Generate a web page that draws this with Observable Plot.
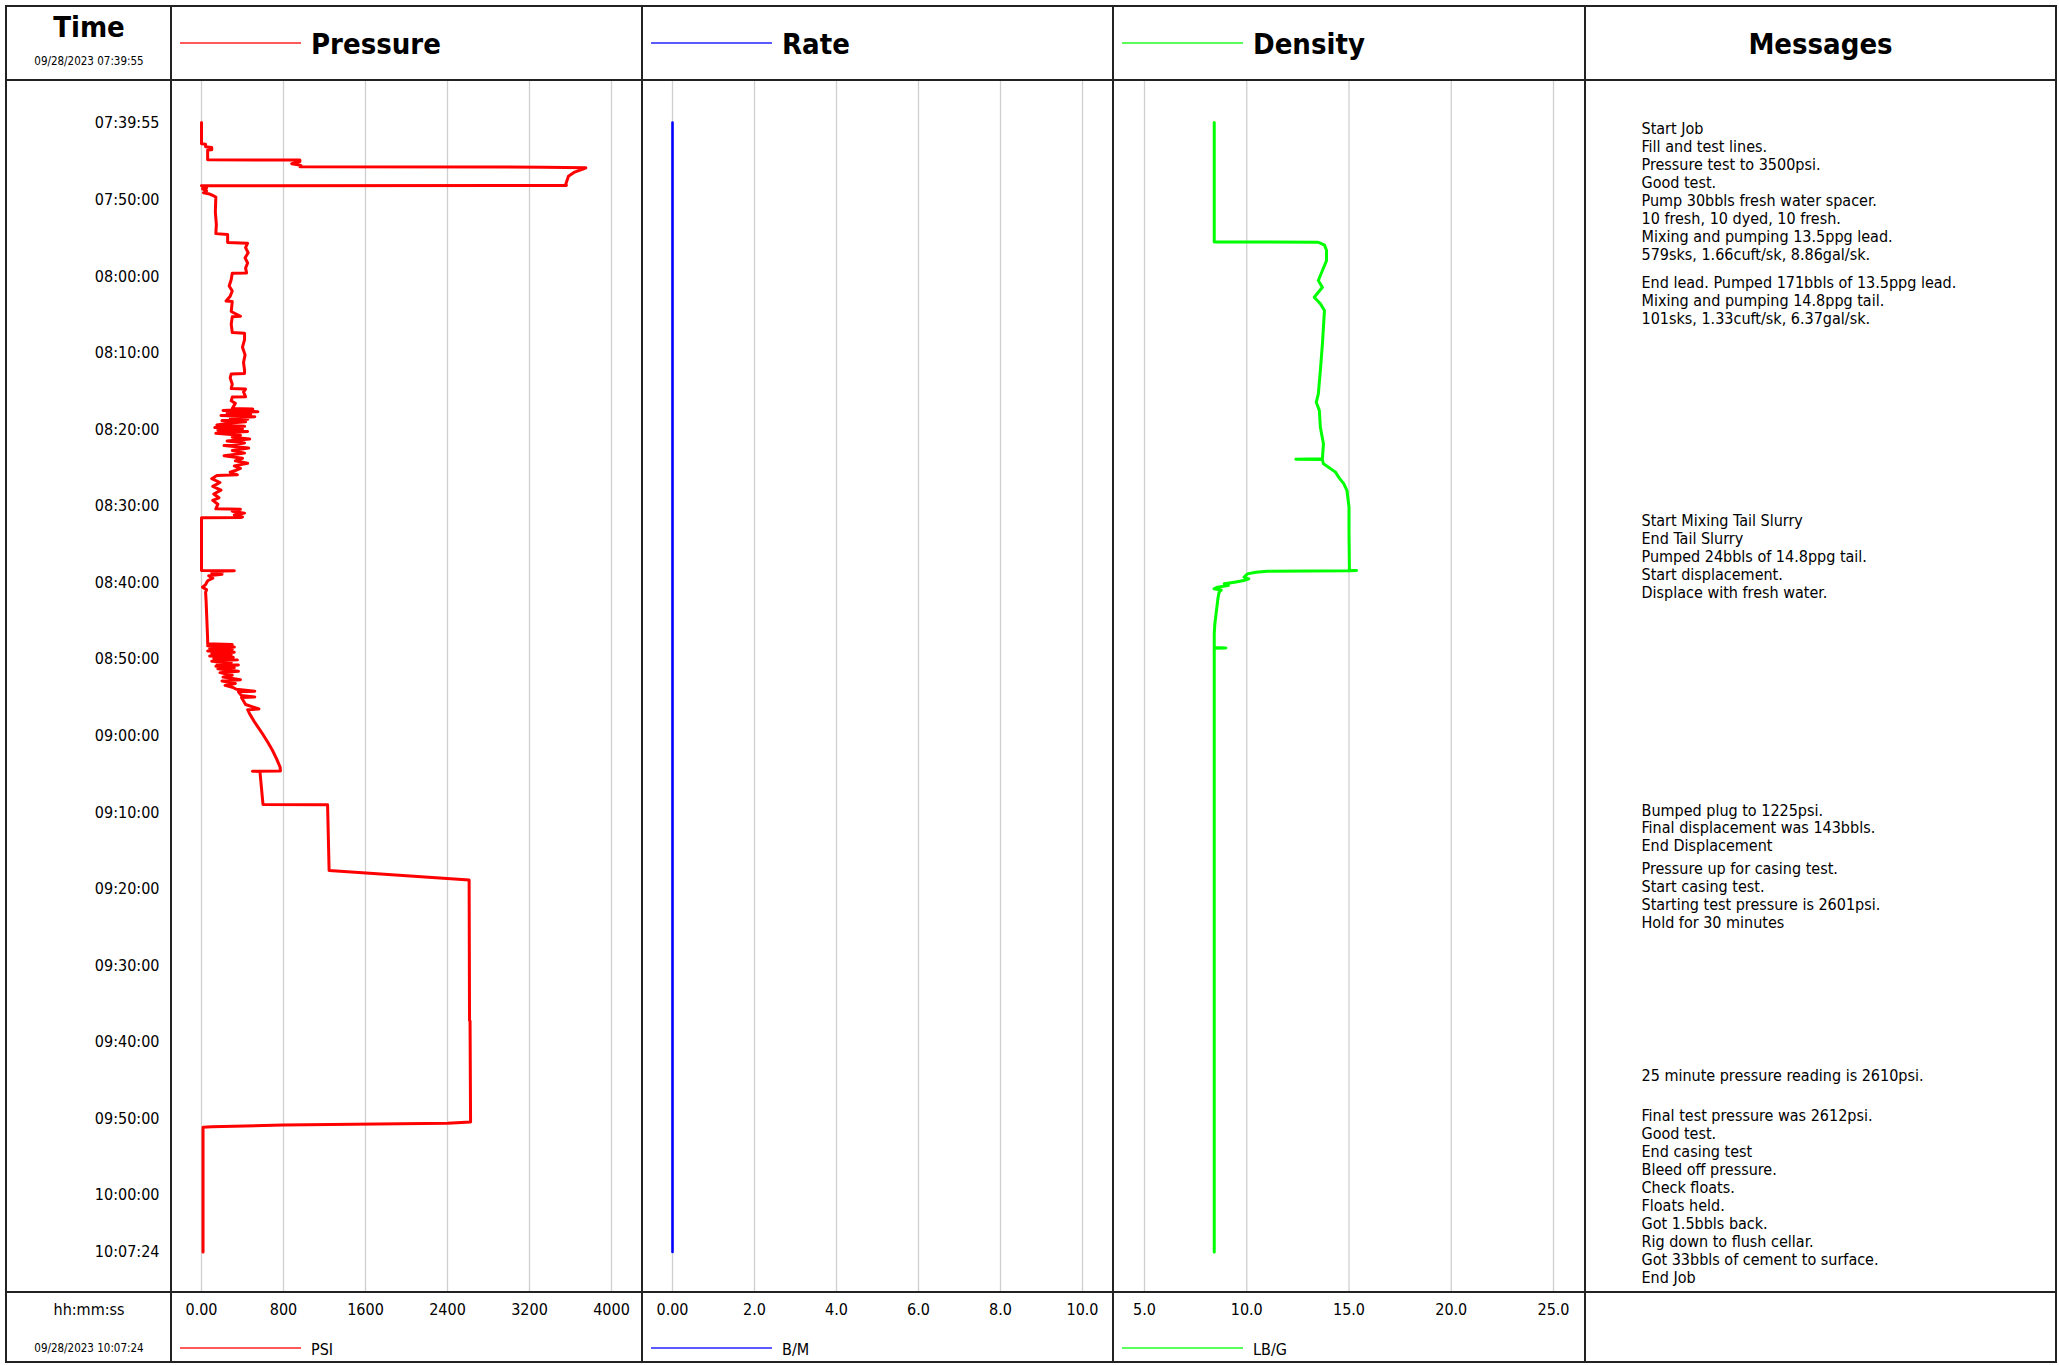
<!DOCTYPE html>
<html>
<head>
<meta charset="utf-8">
<script src="https://cdn.jsdelivr.net/npm/d3@7"></script>
<script src="https://cdn.jsdelivr.net/npm/@observablehq/plot@0.6"></script>
<style>
  html, body { margin: 0; padding: 0; background: #fff; }
  #page { position: relative; width: 2059px; height: 1365px; background: #fff; overflow: hidden;
          font-family: 'DejaVu Sans Condensed', 'DejaVu Sans', sans-serif; color: #000; }
  .abs { position: absolute; }
  .txt { position: absolute; white-space: nowrap; line-height: 1; }
  .hl { position: absolute; background: #222; }
</style>
</head>
<body>
<div id="page"></div>
<script>
// ---------------- data ----------------
const startDate = "09/28/2023 07:39:55";
const endDate = "09/28/2023 10:07:24";
const timeTickLabels = ["07:39:55","07:50:00","08:00:00","08:10:00","08:20:00","08:30:00","08:40:00",
  "08:50:00","09:00:00","09:10:00","09:20:00","09:30:00","09:40:00","09:50:00","10:00:00","10:07:24"];

const pressureTicks = [0, 800, 1600, 2400, 3200, 4000];
const pressureTickLabels = ["0.00", "800", "1600", "2400", "3200", "4000"];
const rateTicks = [0, 2, 4, 6, 8, 10];
const rateTickLabels = ["0.00", "2.0", "4.0", "6.0", "8.0", "10.0"];
const densityTicks = [5, 10, 15, 20, 25];
const densityTickLabels = ["5.0", "10.0", "15.0", "20.0", "25.0"];

// [seconds since 07:39:55, value]
const pressure = [
[0,0],[166,0],[170,40],[190,40],[195,100],[212,100],[215,60],[291,60],[294,960],[305,960],[322,880],[335,970],[345,960],[349,3340],[354,3750],[365,3720],[388,3640],[420,3580],[480,3555],[492,3560],[495,0],
[505,30],[512,50],[520,10],[535,50],[550,20],[560,80],[575,120],[584,140],[700,135],[800,145],[870,140],[877,255],[940,255],[945,450],[980,430],[1020,455],[1060,425],[1100,450],[1140,430],[1178,440],[1180,300],
[1230,290],[1280,270],[1320,300],[1360,280],[1398,240],[1402,300],[1480,290],[1518,380],[1522,300],[1580,290],[1645,300],[1650,420],[1700,420],[1760,400],[1820,425],[1880,410],[1940,420],[1966,420],[1970,290],[2000,280],[2050,300],[2084,290],[2088,430],[2110,410],[2148,430],[2151,300],[2180,290],[2200,330],[2240,300],
[2245,500],[2255,210],[2265,550],[2275,250],[2285,480],[2295,190],[2305,520],[2315,280],[2325,450],[2335,200],[2345,430],[2355,260],
[2370,150],[2380,420],[2390,130],[2400,400],[2410,160],[2420,450],[2435,140],[2450,380],[2465,300],[2480,470],[2495,250],[2510,420],[2530,220],[2550,460],[2570,300],[2590,420],[2610,220],[2630,400],[2650,330],[2670,450],[2690,320],[2710,380],[2726,330],[2740,280],[2760,350],[2765,150],
[2790,100],[2820,180],[2850,110],[2880,190],[2910,120],[2940,170],[2960,110],[2990,160],[3026,140],[3030,380],[3045,300],[3060,420],[3075,320],[3090,400],[3095,380],[3097,0],
[3510,0],[3512,320],[3515,150],[3520,210],[3530,100],[3540,200],[3550,70],[3570,110],[3590,60],[3620,40],[3640,10],[3660,50],[3680,40],[3750,45],[3850,50],[3950,55],[4050,60],[4084,60],
[4090,300],[4100,60],[4110,320],[4120,80],[4130,300],[4140,60],[4150,320],[4160,100],[4170,290],[4180,80],[4190,310],[4200,120],[4210,350],[4220,100],[4230,290],[4240,150],[4250,360],[4260,140],[4270,320],
[4280,160],[4300,360],[4310,180],[4330,300],[4345,210],[4365,380],[4375,200],[4395,330],[4410,230],[4424,300],
[4440,340],[4455,520],[4460,360],[4490,390],[4500,520],[4505,390],[4560,430],[4595,560],[4600,450],[4633,470],[4700,520],[4789,595],[4860,650],[4920,693],[4990,735],[5051,767],[5080,770],[5082,497],[5084,570],[5343,600],[5345,1230],[5860,1245],[5934,2611],[7036,2615],[7040,2620],[7832,2625],[7840,2400],[7855,800],[7868,100],[7872,15],[8849,15]
];

const rate = [[0,0],[8849,0]];

const density = [
[0,8.41],[935,8.41],[937,13.45],[945,13.6],[960,13.8],[1000,13.9],[1081,13.9],[1159,13.7],[1237,13.5],[1290,13.7],[1368,13.3],[1420,13.6],[1472,13.8],[1603,13.75],[1734,13.7],[1942,13.6],[2125,13.5],[2191,13.4],[2256,13.55],[2387,13.6],[2517,13.75],[2634,13.7],[2637,12.4],[2640,13.7],[2674,13.75],[2700,14.0],[2739,14.34],[2780,14.5],[2831,14.75],[2883,14.9],[3013,15.0],[3200,15.0],[3507,15.02],[3509,15.37],[3511,15.02],[3515,11.0],[3523,10.44],[3536,10.03],[3562,9.87],[3575,10.1],[3588,9.85],[3601,9.4],[3614,8.9],[3627,9.1],[3640,8.57],[3653,8.4],[3663,8.75],[3679,8.65],[3719,8.6],[3797,8.54],[3928,8.44],[4006,8.41],[4114,8.41],[4116,8.98],[4118,8.41],[8849,8.41]
];

const messageTimes = [54, 1263, 3131, 5396, 5853, 7480, 7788];
const messageTexts = [
  "Start Job\nFill and test lines.\nPressure test to 3500psi.\nGood test.\nPump 30bbls fresh water spacer.\n10 fresh, 10 dyed, 10 fresh.\nMixing and pumping 13.5ppg lead.\n579sks, 1.66cuft/sk, 8.86gal/sk.",
  "End lead. Pumped 171bbls of 13.5ppg lead.\nMixing and pumping 14.8ppg tail.\n101sks, 1.33cuft/sk, 6.37gal/sk.",
  "Start Mixing Tail Slurry\nEnd Tail Slurry\nPumped 24bbls of 14.8ppg tail.\nStart displacement.\nDisplace with fresh water.",
  "Bumped plug to 1225psi.\nFinal displacement was 143bbls.\nEnd Displacement",
  "Pressure up for casing test.\nStart casing test.\nStarting test pressure is 2601psi.\nHold for 30 minutes",
  "25 minute pressure reading is 2610psi.",
  "Final test pressure was 2612psi.\nGood test.\nEnd casing test\nBleed off pressure.\nCheck floats.\nFloats held.\nGot 1.5bbls back.\nRig down to flush cellar.\nGot 33bbls of cement to surface.\nEnd Job"
];

const panelTitles = ["Pressure", "Rate", "Density"];
const unitLabels = ["PSI", "B/M", "LB/G"];
const seriesColors = ["#ff0000", "#0000ff", "#00ff00"];
const legendColors = ["#ff5a5a", "#5a5aff", "#5aff5a"];

// ---------------- layout ----------------
const FONT = "'DejaVu Sans Condensed', 'DejaVu Sans', sans-serif";
const page = document.getElementById("page");
const toSec = s => { const [h, m, x] = s.split(":").map(Number); return h * 3600 + m * 60 + x; };
const t0 = toSec(timeTickLabels[0]);
const tEnd = toSec(timeTickLabels[timeTickLabels.length - 1]) - t0;
const HEADER_BOTTOM = 80, FOOTER_TOP = 1292, H = 1365;
const cols = [6, 171, 642, 1113, 1585, 2056];
const yScale = {domain: [0, tEnd], range: [122.1, 1251.4], axis: null};

function place(node, left) {
  const w = document.createElement("div");
  w.className = "abs";
  w.style.left = left + "px";
  w.style.top = "0px";
  w.appendChild(node);
  page.appendChild(w);
}
const baseStyle = {fontFamily: FONT, fontSize: "16px", color: "#000", background: "transparent", overflow: "visible", maxWidth: "none"};

function panel(i, domain, ticks, labels, data, sw) {
  const left = cols[i + 1], width = cols[i + 2] - cols[i + 1];
  const r0 = i === 2 ? 31 : 30, r1 = 440;
  const p = Plot.plot({
    width, height: H, marginTop: HEADER_BOTTOM, marginBottom: H - FOOTER_TOP,
    marginLeft: r0, marginRight: width - r1,
    x: {domain, range: [r0, r1]},
    y: yScale,
    style: baseStyle,
    marks: [
      Plot.gridX(ticks, {stroke: "#cfcfcf", strokeOpacity: 1, strokeWidth: 1.3}),
      Plot.axisX(ticks, {anchor: "bottom", tickSize: 0, tickPadding: 11, label: null, fontSize: 16,
        tickFormat: d => labels[ticks.indexOf(d)]}),
      Plot.line(data, {x: d => d[1], y: d => d[0], stroke: seriesColors[i], strokeWidth: sw})
    ]
  });
  place(p, left);
}

panel(0, [0, 4000], pressureTicks, pressureTickLabels, pressure, 3);
panel(1, [0, 10], rateTicks, rateTickLabels, rate, 2.6);
panel(2, [5, 25], densityTicks, densityTickLabels, density, 3);

// time column
place(Plot.plot({
  width: 171, height: H, marginTop: HEADER_BOTTOM, marginBottom: H - FOOTER_TOP, marginLeft: 0, marginRight: 12,
  y: yScale, style: baseStyle,
  marks: [Plot.text(timeTickLabels, {y: d => toSec(d) - t0, text: d => d, frameAnchor: "right", textAnchor: "end", fontSize: 16})]
}), 0);

// messages column
place(Plot.plot({
  width: cols[5] - cols[4], height: H, marginTop: HEADER_BOTTOM, marginBottom: H - FOOTER_TOP, marginLeft: 56, marginRight: 0,
  y: yScale, style: baseStyle,
  marks: [Plot.text(messageTexts, {y: (d, i) => messageTimes[i], text: d => d, frameAnchor: "left", textAnchor: "start",
    lineAnchor: "top", lineHeight: 1.125, dy: -8.5, fontSize: 16})]
}), cols[4]);

// borders
function line(x, y, w, h) {
  const d = document.createElement("div");
  d.className = "hl";
  Object.assign(d.style, {left: x + "px", top: y + "px", width: w + "px", height: h + "px"});
  page.appendChild(d);
}
const BW = 1.6;
line(cols[0], 5, cols[5] - cols[0], BW);
line(cols[0], 1363 - BW, cols[5] - cols[0], BW);
for (const c of cols) line(c - BW / 2, 5, BW, 1363 - 5);
line(cols[0], HEADER_BOTTOM - BW / 2, cols[5] - cols[0], BW);
line(cols[0], FOOTER_TOP - BW / 2, cols[5] - cols[0], BW);

// texts
function text(s, x, y, size, opts = {}) {
  const d = document.createElement("div");
  d.className = "txt";
  d.textContent = s;
  d.style.fontSize = size + "px";
  d.style.fontWeight = opts.bold ? "bold" : "normal";
  d.style.left = x + "px";
  d.style.top = y + "px";
  d.style.transform = opts.center ? "translate(-50%, -50%)" : "translate(0, -50%)";
  page.appendChild(d);
}
function legendLine(x1, x2, y, color) {
  const d = document.createElement("div");
  d.className = "abs";
  Object.assign(d.style, {left: x1 + "px", top: (y - 1) + "px", width: (x2 - x1) + "px", height: "2px", background: color});
  page.appendChild(d);
}
text("Time", 89, 27, 29, {bold: true, center: true});
text(startDate, 89, 62, 11.5, {center: true});
text("hh:mm:ss", 89, 1310, 16, {center: true});
text(endDate, 89, 1349, 11.5, {center: true});
for (let i = 0; i < 3; i++) {
  const c = cols[i + 1];
  legendLine(c + 9, c + 130, 43, legendColors[i]);
  text(panelTitles[i], c + 140, 44, 29, {bold: true});
  legendLine(c + 9, c + 130, 1348, legendColors[i]);
  text(unitLabels[i], c + 140, 1350, 16);
}
text("Messages", (cols[4] + cols[5]) / 2, 44, 29, {bold: true, center: true});
</script>
</body>
</html>
